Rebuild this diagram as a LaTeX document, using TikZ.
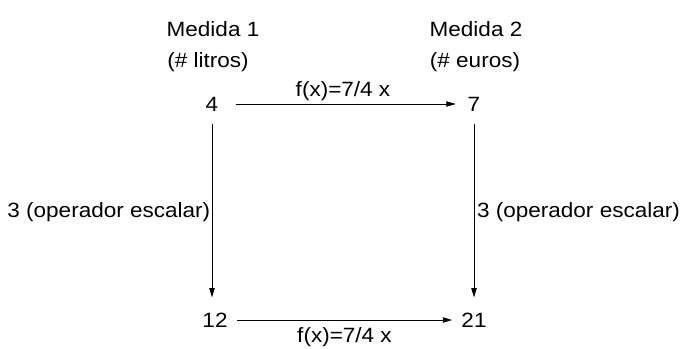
\documentclass[tikz,border=0pt]{standalone}
\usepackage{fontspec}
\setmainfont[FakeStretch=1.09]{Liberation Sans}
\usetikzlibrary{arrows.meta, positioning}

\begin{document}
\begin{tikzpicture}[
    x=0.75pt, y=-0.75pt,
    txt/.style  = {inner sep=1pt, font=\fontsize{15.5}{18}\selectfont},
    num/.style  = {inner xsep=7pt, inner ysep=9.5pt, outer sep=0pt,
                   font=\fontsize{15.5}{18}\selectfont},
    arr/.style  = {-{Triangle[length=7pt, width=4pt]}, line width=0.6pt},
    lbl/.style  = {font=\fontsize{15.5}{18}\selectfont, inner sep=2pt},
]
\useasboundingbox (0,0) rectangle (684,349);

% Headings
\node[txt] (med1) at (213,29) {Medida 1};
\node[txt] (lit)  at (208,62) {(\# litros)};
\node[txt] (med2) at (476,29) {Medida 2};
\node[txt] (eur)  at (475,62) {(\# euros)};

% Quantities
\node[num] (q4)  at (212,104) {4};
\node[num] (q7)  at (474,104) {7};
\node[num] (q12) at (215,320) {12};
\node[num] (q21) at (474,320) {21};

% Arrows
\draw[arr, shorten <=6pt, shorten >=2pt] (q4) -- node[above,lbl]{f(x)=7/4 x} (q7);
\draw[arr] (q12) -- node[below,lbl, yshift=-3pt]{f(x)=7/4 x} (q21);
\draw[arr, shorten >=2pt] (q4.south)  -- (q4.south |- q12.north)
    node[midway, left, lbl, inner sep=1pt]{3 (operador escalar)};
\draw[arr, shorten >=2pt] (q7.south)  -- (q7.south |- q21.north)
    node[midway, right, lbl, inner sep=2pt]{3 (operador escalar)};

\end{tikzpicture}
\end{document}
